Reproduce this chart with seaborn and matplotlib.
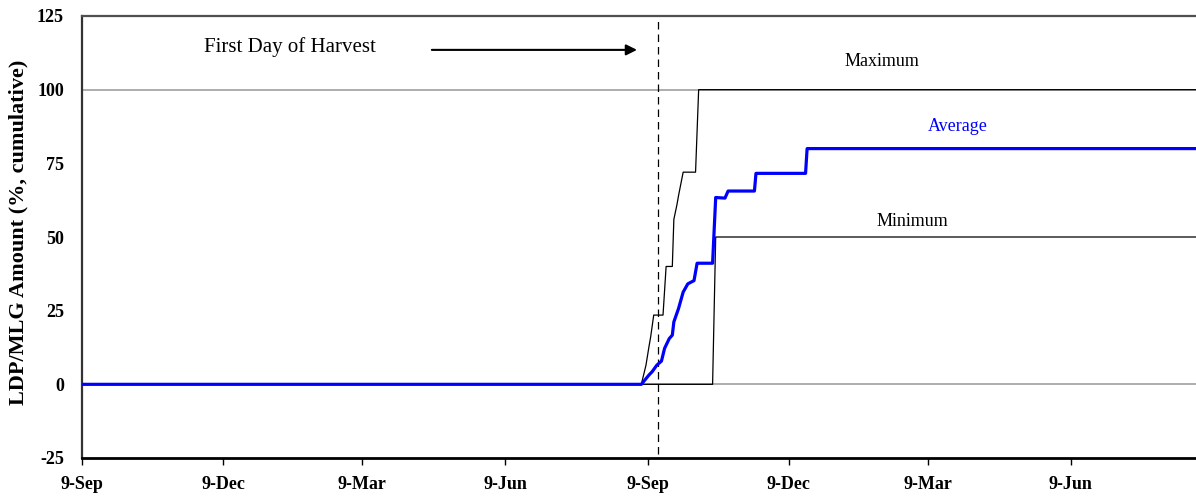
import pandas as pd
import matplotlib
matplotlib.use("Agg")
import matplotlib.pyplot as plt
import matplotlib.dates as mdates
import seaborn as sns

# --- data ---
max_dates = ["2001-09-09", "2002-09-05", "2002-09-08", "2002-09-10", "2002-09-11",
             "2002-09-13", "2002-09-19", "2002-09-21", "2002-09-25", "2002-09-26",
             "2002-09-28", "2002-09-29", "2002-10-02", "2002-10-10", "2002-10-12",
             "2003-08-29"]
max_vals = [0, 0, 6.5, 13, 16, 23.5, 23.5, 40, 40, 56, 61, 64, 72, 72, 100, 100]

avg_dates = ["2001-09-09", "2002-09-05", "2002-09-10", "2002-09-12", "2002-09-15",
             "2002-09-18", "2002-09-20", "2002-09-23", "2002-09-25", "2002-09-26",
             "2002-09-29", "2002-10-02", "2002-10-05", "2002-10-09", "2002-10-11",
             "2002-10-21", "2002-10-23", "2002-10-29", "2002-10-31", "2002-11-17",
             "2002-11-18", "2002-12-20", "2002-12-21", "2003-08-29"]
avg_vals = [0, 0, 3.2, 4.3, 6.5, 7.9, 12.2, 15.5, 16.7, 21.2, 25.7, 31.3, 34.1,
            35.2, 41.1, 41.1, 63.4, 63.2, 65.6, 65.6, 71.6, 71.6, 80, 80]

min_dates = ["2001-09-09", "2002-10-21", "2002-10-23", "2003-08-29"]
min_vals = [0, 0, 50, 50]

harvest_day = "2002-09-16"

tick_dates = ["2001-09-09", "2001-12-09", "2002-03-09", "2002-06-09",
              "2002-09-09", "2002-12-09", "2003-03-09", "2003-06-09"]
tick_labels = ["9-Sep", "9-Dec", "9-Mar", "9-Jun", "9-Sep", "9-Dec", "9-Mar", "9-Jun"]
y_ticks = [-25, 0, 25, 50, 75, 100, 125]

sns.set_style("white")
plt.rcParams["font.family"] = ["Liberation Serif", "DejaVu Serif"]
plt.rcParams["text.color"] = "black"
plt.rcParams["xtick.color"] = "black"
plt.rcParams["ytick.color"] = "black"
plt.rcParams["axes.labelcolor"] = "black"

fig = plt.figure(figsize=(11.96, 5.0), dpi=100)
ax = fig.add_axes([82 / 1196, 42 / 500, 1 - 82 / 1196, 442 / 500])

d = lambda s: pd.to_datetime(s)

# reference lines at 0 and 100
ax.axhline(0, color="#a0a0a0", lw=1.2, zorder=1)
ax.axhline(100, color="#a0a0a0", lw=1.2, zorder=1)

sns.lineplot(x=d(max_dates), y=max_vals, ax=ax, color="black", lw=0.9,
             estimator=None, sort=False, zorder=3)
sns.lineplot(x=d(min_dates), y=min_vals, ax=ax, color="black", lw=0.9,
             estimator=None, sort=False, zorder=3)
sns.lineplot(x=d(avg_dates), y=avg_vals, ax=ax, color="#0000ff", lw=2.3,
             estimator=None, sort=False, zorder=4)

ax.axvline(d(harvest_day), ymin=0.01, ymax=1, color="black", lw=0.9,
           ls=(0, (6, 4)), zorder=2)

ax.set_xlim(d("2001-09-09"), d("2003-08-29"))
ax.set_ylim(-25, 125)
ax.set_xticks(d(tick_dates))
ax.set_xticklabels(tick_labels)
ax.set_yticks(y_ticks)
ax.set_yticklabels([str(v) for v in y_ticks])
ax.set_xlabel("")
ax.set_ylabel("")

ax.tick_params(axis="x", length=5, width=1, color="black", direction="out",
               bottom=True, pad=8, labelsize=13, labelcolor="black")
ax.tick_params(axis="y", length=0, pad=13, labelsize=13, labelcolor="black")
for lab in ax.get_xticklabels() + ax.get_yticklabels():
    lab.set_fontweight("bold")

for side in ["left", "bottom", "top"]:
    ax.spines[side].set_visible(True)
ax.spines["right"].set_visible(False)
ax.spines["left"].set_color("#333333")
ax.spines["left"].set_linewidth(1.6)
ax.spines["bottom"].set_color("black")
ax.spines["bottom"].set_linewidth(2.0)
ax.spines["top"].set_color("#505050")
ax.spines["top"].set_linewidth(1.6)

# annotations
num = lambda s: mdates.date2num(pd.to_datetime(s))
ax.text(num("2001-11-27"), 114.5, "First Day of Harvest", fontsize=15,
        ha="left", va="center", color="black")
ax.annotate("", xy=(num("2002-09-04"), 113.5), xytext=(num("2002-04-21"), 113.5),
            arrowprops=dict(arrowstyle="-|>", color="black", lw=1.5,
                            mutation_scale=16))
ax.text(num("2003-02-07"), 109.5, "Maximum", fontsize=13, ha="center", va="center",
        color="black")
ax.text(num("2003-03-28"), 87.5, "Average", fontsize=13, ha="center", va="center",
        color="#0000ff")
ax.text(num("2003-02-27"), 55.4, "Minimum", fontsize=13, ha="center", va="center",
        color="black")

fig.text(18 / 1196, 0.536, "LDP/MLG Amount (%, cumulative)", rotation=90,
         ha="center", va="center", fontsize=16, fontweight="bold", color="black")

fig.savefig("out.png", dpi=100)
